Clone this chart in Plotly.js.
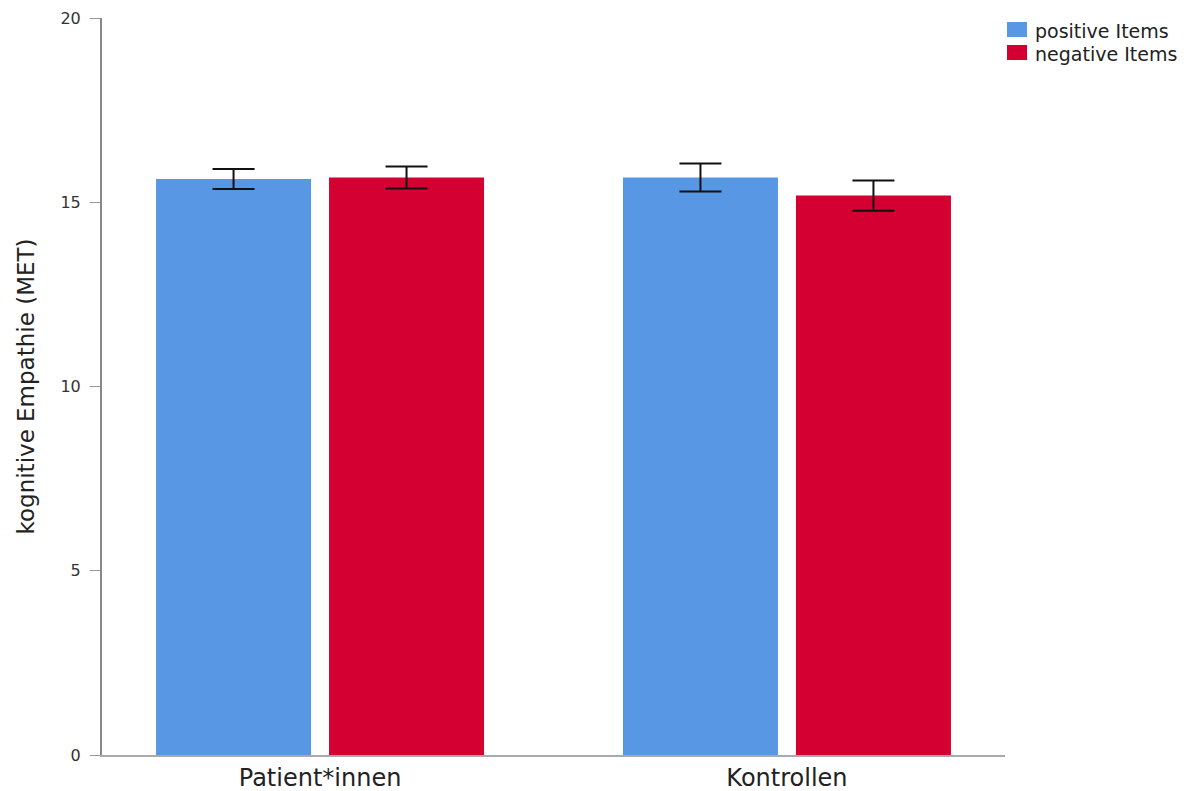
<!DOCTYPE html>
<html>
<head>
<meta charset="utf-8">
<script src="https://cdn.plot.ly/plotly-3.0.1.min.js"></script>
<style>
  html, body { margin: 0; padding: 0; background: #fff; }
  #chart { width: 1188px; height: 791px; }
</style>
</head>
<body>
<div id="chart"></div>
<script>
// Groups and mean scores with their error margins
const groups = ['Patient*innen', 'Kontrollen'];
const positiveMeans = [15.63, 15.67];
const positiveErr = [0.27, 0.38];
const negativeMeans = [15.67, 15.18];
const negativeErr = [0.30, 0.41];
const seriesNames = ['positive Items', 'negative Items'];
const seriesColors = ['#5797E3', '#D50032'];
const yTicks = [0, 5, 10, 15, 20];

const FONT = '"DejaVu Sans", "Open Sans", sans-serif';

const traces = [positiveMeans, negativeMeans].map((vals, i) => ({
  type: 'bar',
  name: seriesNames[i],
  x: groups,
  y: vals,
  marker: { color: seriesColors[i] },
  error_y: {
    type: 'data',
    array: i === 0 ? positiveErr : negativeErr,
    visible: true,
    color: '#111',
    thickness: 2,
    width: 21
  }
}));

// Legend drawn as swatches + labels in the top-right corner
const legendShapes = [];
const legendNotes = [];
const legendTop = [0.9946, 0.9634];   // paper y of each swatch top
seriesNames.forEach((name, i) => {
  legendShapes.push({
    type: 'rect', xref: 'paper', yref: 'paper',
    x0: 1.0022, x1: 1.0244, y0: legendTop[i] - 0.0204, y1: legendTop[i],
    fillcolor: seriesColors[i], line: { width: 0 }
  });
  legendNotes.push({
    xref: 'paper', yref: 'paper', x: 1.031, y: legendTop[i] - 0.0125,
    xanchor: 'left', yanchor: 'middle', showarrow: false,
    text: name, font: { size: 19, color: '#222', family: FONT }
  });
});

const layout = {
  width: 1188,
  height: 791,
  margin: { l: 102, r: 183, t: 18, b: 36 },
  paper_bgcolor: '#fff',
  plot_bgcolor: '#fff',
  barmode: 'group',
  bargap: 0.259,
  bargroupgap: 0.104,
  showlegend: false,
  font: { family: FONT, color: '#222' },
  xaxis: {
    type: 'category',
    range: [-0.467, 1.467],
    showline: true,
    linecolor: '#aaa',
    linewidth: 2,
    ticks: '',
    showgrid: false,
    zeroline: false,
    tickfont: { size: 24, color: '#222', family: FONT }
  },
  yaxis: {
    range: [0, 20],
    tickvals: yTicks,
    ticktext: yTicks.map(String),
    showline: true,
    linecolor: '#888',
    linewidth: 2,
    ticks: 'outside',
    ticklen: 10,
    tickwidth: 1,
    tickcolor: '#999',
    ticklabelstandoff: 6,
    showgrid: false,
    zeroline: false,
    tickfont: { size: 16, color: '#333', family: FONT },
    title: { text: 'kognitive Empathie (MET)', font: { size: 23, color: '#222', family: FONT }, standoff: 19 }
  },
  shapes: legendShapes,
  annotations: legendNotes
};

Plotly.newPlot('chart', traces, layout, { displayModeBar: false, staticPlot: true });
</script>
</body>
</html>
